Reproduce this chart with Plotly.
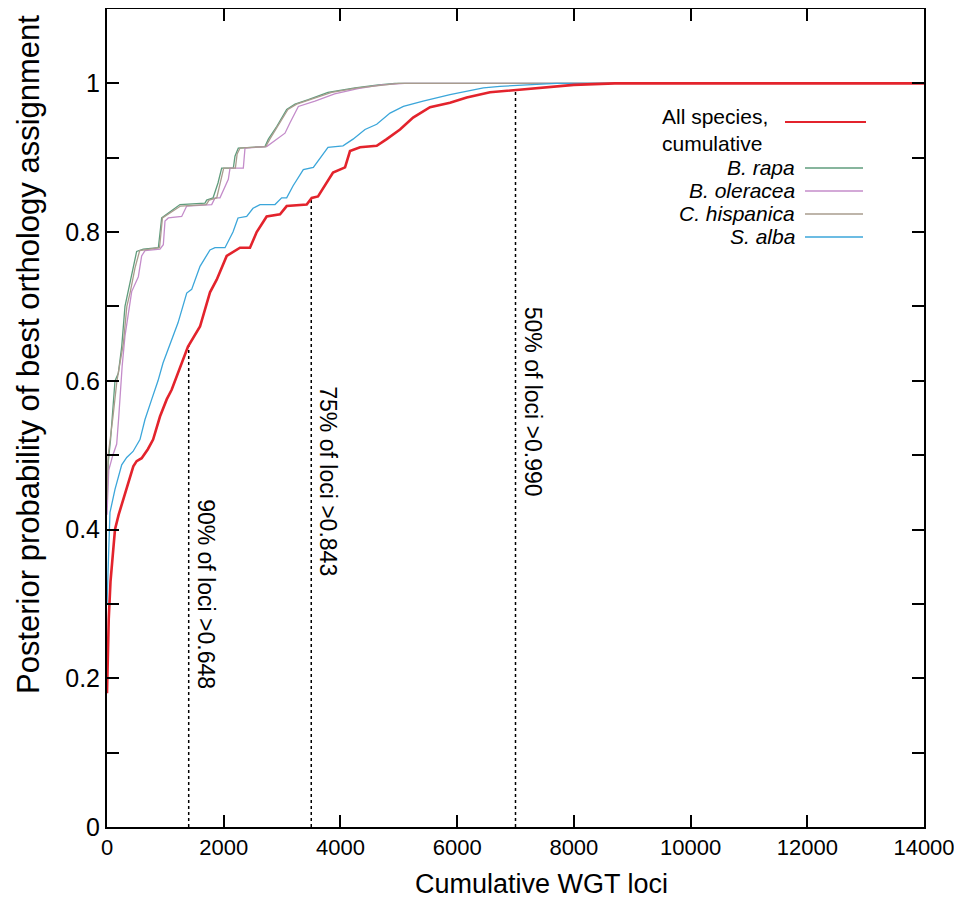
import plotly.graph_objects as go

# cumulative curves (x = cumulative WGT loci, y = posterior probability)
all_x = [0, 10, 30, 60, 100, 137, 200, 280, 380, 451, 508, 594, 700, 790, 908, 1023, 1108, 1250, 1388,
         1594, 1765, 1880, 2051, 2279, 2450, 2565, 2736, 2965, 3079, 3422, 3508, 3616, 3873, 4079, 4164,
         4336, 4622, 4793, 5021, 5245, 5535, 5878, 6164, 6563, 7000, 7500, 8000, 8700, 14000]
all_y = [0.18, 0.22, 0.28, 0.33, 0.37, 0.40, 0.42, 0.44, 0.465, 0.485, 0.492, 0.496, 0.508, 0.521, 0.552,
         0.575, 0.588, 0.617, 0.646, 0.673, 0.719, 0.736, 0.768, 0.779, 0.779, 0.800, 0.821, 0.824, 0.835,
         0.837, 0.846, 0.848, 0.880, 0.887, 0.909, 0.914, 0.916, 0.925, 0.938, 0.954, 0.968, 0.974, 0.981,
         0.988, 0.991, 0.995, 0.998, 1.0, 1.0]

rapa_x = [0, 20, 60, 100, 137, 194, 252, 308, 365, 451, 508, 622, 880, 937, 1251, 1679, 1708, 1817, 1902,
          1965, 2165, 2193, 2250, 2707, 2765, 2908, 3079, 3222, 3450, 3787, 4250, 4650, 4935, 14000]
rapa_y = [0.43, 0.49, 0.52, 0.56, 0.60, 0.61, 0.646, 0.70, 0.72, 0.752, 0.774, 0.777, 0.779, 0.819, 0.837,
          0.839, 0.843, 0.846, 0.866, 0.886, 0.886, 0.902, 0.913, 0.915, 0.925, 0.942, 0.965, 0.972, 0.978,
          0.988, 0.994, 0.998, 1.0, 1.0]

oler_x = [0, 30, 100, 166, 200, 223, 260, 308, 394, 423, 537, 594, 651, 908, 965, 994, 1051, 1280, 1366,
          1794, 1851, 1936, 2079, 2108, 2336, 2365, 2736, 2850, 3050, 3136, 3279, 3564, 3900, 4300, 4700,
          5100, 14000]
oler_y = [0.42, 0.48, 0.50, 0.515, 0.55, 0.58, 0.62, 0.66, 0.707, 0.72, 0.74, 0.768, 0.775, 0.777, 0.783,
          0.815, 0.819, 0.821, 0.835, 0.837, 0.846, 0.846, 0.871, 0.886, 0.886, 0.913, 0.915, 0.922, 0.933,
          0.947, 0.969, 0.976, 0.986, 0.993, 0.998, 1.0, 1.0]

hisp_x = [0, 20, 100, 170, 280, 340, 400, 480, 560, 900, 950, 1260, 1700, 1750, 1880, 1950, 2000, 2200,
          2230, 2280, 2720, 2790, 2950, 3100, 3250, 3500, 3850, 4300, 4700, 5000, 14000]
hisp_y = [0.44, 0.50, 0.55, 0.60, 0.65, 0.70, 0.72, 0.752, 0.775, 0.779, 0.819, 0.835, 0.837, 0.843, 0.846,
          0.870, 0.886, 0.886, 0.905, 0.913, 0.915, 0.925, 0.945, 0.965, 0.972, 0.979, 0.988, 0.994, 0.998,
          1.0, 1.0]

alba_x = [0, 20, 51, 137, 252, 338, 446, 565, 651, 766, 874, 960, 1217, 1366, 1451, 1594, 1765, 1851, 2022,
          2159, 2245, 2394, 2502, 2622, 2879, 2993, 3079, 3187, 3364, 3536, 3787, 4044, 4216, 4421, 4622,
          4850, 5079, 5416, 5878, 6450, 6734, 7200, 7700, 14000]
alba_y = [0.30, 0.36, 0.423, 0.454, 0.487, 0.497, 0.505, 0.521, 0.548, 0.575, 0.60, 0.624, 0.678, 0.718,
          0.723, 0.754, 0.776, 0.779, 0.779, 0.80, 0.819, 0.821, 0.832, 0.837, 0.837, 0.846, 0.846, 0.862,
          0.884, 0.887, 0.914, 0.916, 0.925, 0.938, 0.945, 0.960, 0.969, 0.976, 0.985, 0.994, 0.996, 0.998,
          1.0, 1.0]

# quantile markers
cut_x = [1400, 3500, 7000]
cut_y = [0.648, 0.843, 0.990]
cut_labels = ["90% of loci >0.648", "75% of loci >0.843", "50% of loci >0.990"]
cut_label_top = [0.444, 0.595, 0.703]

x_ticks = [0, 2000, 4000, 6000, 8000, 10000, 12000, 14000]
x_ticktext = ["0", "2000", "4000", "6000", "8000", "10000", "12000", "14000"]
y_ticks = [0, 0.1, 0.2, 0.3, 0.4, 0.5, 0.6, 0.7, 0.8, 0.9, 1.0, 1.1]
y_ticktext = ["0", "", "0.2", "", "0.4", "", "0.6", "", "0.8", "", "1", ""]

FONT = "Liberation Sans, Arial, sans-serif"

series = [
    ("All species,<br>cumulative", all_x, all_y, "#e3232c", 2.6),
    ("<i>B. rapa</i>", rapa_x, rapa_y, "#5f9c7c", 1.3),
    ("<i>B. oleracea</i>", oler_x, oler_y, "#c48cca", 1.3),
    ("<i>C. hispanica</i>", hisp_x, hisp_y, "#a99c8e", 1.3),
    ("<i>S. alba</i>", alba_x, alba_y, "#3ba6da", 1.3),
]

fig = go.Figure()

for i in range(len(cut_x)):
    fig.add_trace(go.Scatter(x=[cut_x[i], cut_x[i]], y=[0, cut_y[i]], mode="lines",
                             line=dict(color="black", width=1.5, dash="3px,3px"), showlegend=False))

# draw species first, red on top
for name, xs, ys, color, width in series[1:] + series[:1]:
    fig.add_trace(go.Scatter(x=xs, y=ys, mode="lines", name=name,
                             line=dict(color=color, width=width), showlegend=False))


# page pixel -> paper fraction (plot area spans x 107..924, y 9..827 on the page)
def px_x(p):
    return (p - 107) / 817


def px_y(p):
    return (827 - p) / 818


annotations = []
shapes = []

# gnuplot-style key: text then line sample
annotations.append(dict(xref="paper", yref="paper", x=px_x(660), y=px_y(103), xanchor="left", yanchor="top",
                        text=series[0][0], showarrow=False, align="left",
                        font=dict(family=FONT, size=21, color="black")))
shapes.append(dict(type="line", xref="paper", yref="paper", x0=px_x(785), x1=px_x(866),
                   y0=px_y(122), y1=px_y(122), line=dict(color=series[0][3], width=2.2)))
key_rows = [168, 191, 214, 237]
for (name, _, _, color, _), row in zip(series[1:], key_rows):
    annotations.append(dict(xref="paper", yref="paper", x=px_x(797), y=px_y(row), xanchor="right",
                            yanchor="middle", text=name, showarrow=False,
                            font=dict(family=FONT, size=21, color="black")))
    shapes.append(dict(type="line", xref="paper", yref="paper", x0=px_x(805), x1=px_x(863),
                       y0=px_y(row), y1=px_y(row), line=dict(color=color, width=1.6)))

for xv, top, label in zip(cut_x, cut_label_top, cut_labels):
    annotations.append(dict(x=xv, y=top, xref="x", yref="y", xanchor="left", yanchor="top", xshift=2,
                            text=label, textangle=90, showarrow=False,
                            font=dict(family=FONT, size=23, color="black")))

# axis titles (placed as in the reference, off-centre)
annotations.append(dict(xref="paper", yref="paper", x=px_x(541), y=px_y(884), xanchor="center",
                        yanchor="middle", text="Cumulative WGT loci", showarrow=False,
                        font=dict(family=FONT, size=27, color="black")))
annotations.append(dict(xref="paper", yref="paper", x=px_x(28), y=px_y(355), xanchor="center",
                        yanchor="middle", text="Posterior probability of best orthology assignment",
                        textangle=-90, showarrow=False, font=dict(family=FONT, size=31, color="black")))

# the page body adds an 8px offset, so the figure is 8px smaller and margins shifted
fig.update_layout(
    width=954, height=897,
    margin=dict(l=99, r=38, t=1, b=78),
    paper_bgcolor="white", plot_bgcolor="white",
    font=dict(family=FONT, color="black"),
    annotations=annotations, shapes=shapes,
    xaxis=dict(range=[0, 14000], tickvals=x_ticks, ticktext=x_ticktext, ticks="inside", ticklen=12,
               tickwidth=1.5, tickcolor="black", showline=True, linewidth=2, linecolor="black",
               mirror="allticks", showgrid=False, zeroline=False, automargin=False,
               tickfont=dict(family=FONT, size=22)),
    yaxis=dict(range=[0, 1.1], tickvals=y_ticks, ticktext=y_ticktext, ticks="inside", ticklen=12,
               tickwidth=1.5, tickcolor="black", showline=True, linewidth=2, linecolor="black",
               mirror="allticks", showgrid=False, zeroline=False, automargin=False,
               tickfont=dict(family=FONT, size=25)),
)

fig.write_html("out.html")
